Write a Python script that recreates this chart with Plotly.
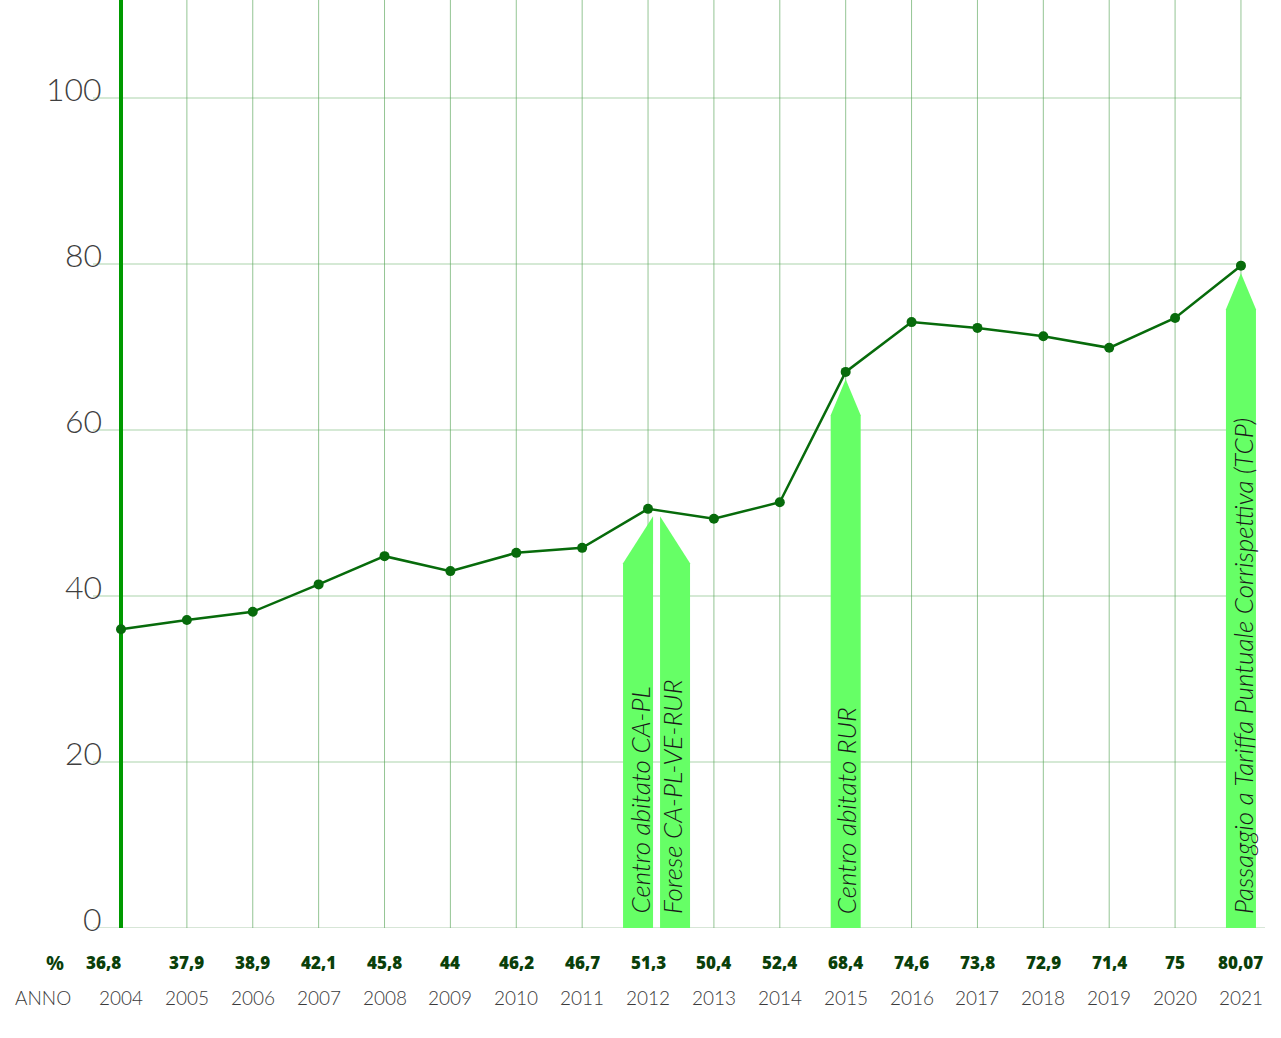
import plotly.graph_objects as go

# ---- data ----
years = list(range(2004, 2022))
# positions of the plotted points
plotted = [36.0, 37.1, 38.1, 41.4, 44.8, 43.0, 45.2, 45.8, 50.5, 49.3,
           51.3, 67.0, 73.0, 72.3, 71.3, 69.9, 73.5, 79.8]
value_labels = ["36,8", "37,9", "38,9", "42,1", "45,8", "44", "46,2", "46,7",
                "51,3", "50,4", "52,4", "68,4", "74,6", "73,8", "72,9", "71,4",
                "75", "80,07"]
y_ticks = [0, 20, 40, 60, 80, 100]

# events (arrows)
event_text = ["Centro abitato CA-PL", "Forese CA-PL-VE-RUR",
              "Centro abitato RUR", "Passaggio a Tariffa Puntuale Corrispettiva (TCP)"]
event_year = [2012, 2012, 2015, 2021]
event_kind = ["left", "right", "full", "full"]

# ---- style ----
PX_PER_YEAR = 65.88
PX_PER_UNIT = 8.3
X0 = 2004 - 121 / PX_PER_YEAR
X1 = 2004 + (1281 - 121) / PX_PER_YEAR
Y1 = 928 / PX_PER_UNIT

LINE_GREEN = "#076b0b"
ARROW_GREEN = "#66ff66"
VGRID = "rgba(60,150,60,0.55)"
HGRID = "rgba(90,170,90,0.5)"
LABEL_GREEN = "#0a3f0a"
GRAY = "#3a3a3a"

fig = go.Figure()

shapes = []
# vertical gridlines
for yr in years[1:]:
    shapes.append(dict(type="line", xref="x", yref="y", x0=yr, x1=yr, y0=0, y1=Y1,
                       line=dict(color=VGRID, width=1), layer="below"))
# horizontal gridlines
for t in y_ticks:
    xend = 2004 + (1265 - 121) / PX_PER_YEAR if t == 0 else 2021
    col = "rgba(120,170,120,0.6)" if t == 0 else HGRID
    shapes.append(dict(type="line", xref="x", yref="y",
                       x0=2004 - 28 / PX_PER_YEAR, x1=xend, y0=t, y1=t,
                       line=dict(color=col, width=1), layer="below"))

# arrows
val_by_year = dict(zip(years, plotted))
for yr, kind in zip(event_year, event_kind):
    tip = val_by_year[yr] - 0.9
    if kind == "left":
        xl = yr - 25 / PX_PER_YEAR
        xr = yr + 5 / PX_PER_YEAR
        sh = tip - 47 / PX_PER_UNIT
        path = f"M {xl},0 L {xl},{sh} L {xr},{tip} L {xr},0 Z"
    elif kind == "right":
        xl = yr + 12 / PX_PER_YEAR
        xr = yr + 42 / PX_PER_YEAR
        sh = tip - 47 / PX_PER_UNIT
        path = f"M {xl},0 L {xl},{tip} L {xr},{sh} L {xr},0 Z"
    else:
        xl = yr - 15 / PX_PER_YEAR
        xr = yr + 15 / PX_PER_YEAR
        sh = tip - 36 / PX_PER_UNIT
        path = f"M {xl},0 L {xl},{sh} L {yr},{tip} L {xr},{sh} L {xr},0 Z"
    shapes.append(dict(type="path", xref="x", yref="y", path=path,
                       fillcolor=ARROW_GREEN, line=dict(width=0), layer="below"))

# thick axis line at first year
shapes.append(dict(type="line", xref="x", yref="y", x0=2004, x1=2004, y0=0, y1=Y1,
                   line=dict(color="#009a00", width=4), layer="below"))

fig.add_trace(go.Scatter(
    x=years, y=plotted, mode="lines+markers",
    line=dict(color=LINE_GREEN, width=2.5),
    marker=dict(color=LINE_GREEN, size=10),
    hoverinfo="skip", showlegend=False))

ann = []
# y tick labels
for t in y_ticks:
    ann.append(dict(x=2004 - 17 / PX_PER_YEAR, y=t, xref="x", yref="y",
                    text=str(t), showarrow=False, xanchor="right", yanchor="middle",
                    yshift=10,
                    font=dict(family="Lato", size=32, color="#3f3f3f", weight=300)))
# value labels and years
for i, (yr, lab) in enumerate(zip(years, value_labels)):
    ann.append(dict(x=yr, y=0, xref="x", yref="y", text=lab, showarrow=False,
                    xanchor="center", yanchor="middle", yshift=-34,
                    xshift=-18 if i == 0 else 0,
                    font=dict(family="Open Sans", size=17, color=LABEL_GREEN, weight=800)))
    ann.append(dict(x=yr, y=0, xref="x", yref="y", text=str(yr), showarrow=False,
                    xanchor="center", yanchor="middle", yshift=-69,
                    font=dict(family="Lato", size=19, color=GRAY, weight=300)))
ann.append(dict(x=2004 - 66 / PX_PER_YEAR, y=0, xref="x", yref="y", text="<b>%</b>",
                showarrow=False, xanchor="center", yanchor="middle", yshift=-34,
                font=dict(family="Open Sans", size=20, color=LABEL_GREEN)))
ann.append(dict(x=2004 - 78 / PX_PER_YEAR, y=0, xref="x", yref="y", text="ANNO",
                showarrow=False, xanchor="center", yanchor="middle", yshift=-69,
                font=dict(family="Lato", size=19, color=GRAY, weight=300)))

# event texts
text_dx = [-9, 24, 0, 2]
for txt, yr, dx in zip(event_text, event_year, text_dx):
    ann.append(dict(x=yr, y=0, xref="x", yref="y", text=txt, showarrow=False,
                    textangle=-90, xanchor="center", yanchor="bottom",
                    xshift=dx, yshift=12,
                    font=dict(family="Lato", size=26, color="#1a1a1a",
                              style="italic", weight=300)))

fig.update_layout(
    width=1281, height=1038,
    margin=dict(l=0, r=0, t=0, b=110),
    plot_bgcolor="white", paper_bgcolor="white",
    xaxis=dict(range=[X0, X1], showgrid=False, zeroline=False, showticklabels=False,
               fixedrange=True),
    yaxis=dict(range=[0, Y1], showgrid=False, zeroline=False, showticklabels=False,
               fixedrange=True),
    shapes=shapes, annotations=ann,
)

fig.write_html("out.html", config={"displayModeBar": False},
               post_script="document.body.style.margin='0';document.body.style.overflow='hidden';")
